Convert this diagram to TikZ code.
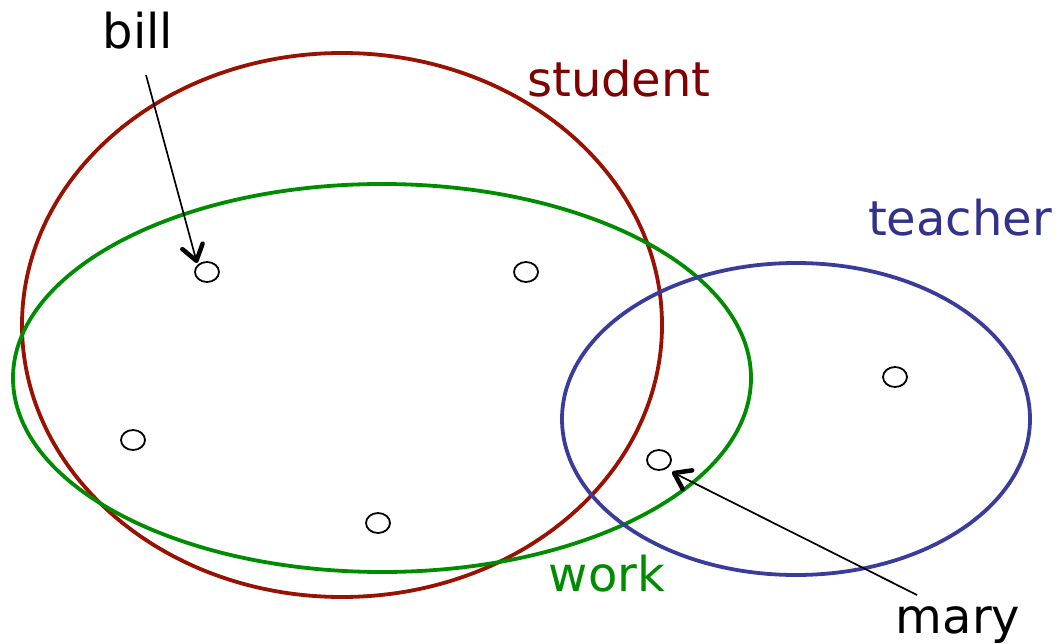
\documentclass[tikz,border=0pt]{standalone}
\usepackage{fontspec}
\setmainfont{DejaVu Sans}
\usetikzlibrary{shapes.geometric,arrows.meta}
\definecolor{sred}{RGB}{153,17,0}
\definecolor{sredtext}{RGB}{128,0,0}
\definecolor{wgreen}{RGB}{0,140,0}
\definecolor{tblue}{RGB}{58,60,155}
\definecolor{tbluetext}{RGB}{50,50,140}
\begin{document}
\begin{tikzpicture}[x=1pt,y=-1pt,
  setline/.style={line width=3.8pt},
  elem/.style={draw,ellipse,line width=1.8pt,minimum width=24pt,minimum height=20pt,inner sep=0pt},
  lbl/.style={anchor=base,inner sep=0pt,font=\fontsize{48}{56}\selectfont},
  pointer/.style={line width=1.7pt,-{Straight Barb[length=15pt,width=21pt,line width=4.5pt 0,round]}}]
\useasboundingbox (0,0) rectangle (1059,644);
% sets
\draw[setline,sred] (342,325) ellipse [x radius=320, y radius=272];
\draw[setline,wgreen] (382,378) ellipse [x radius=369, y radius=194];
\draw[setline,tblue] (796,419) ellipse [x radius=234, y radius=156];
% elements
\node[elem] (e1) at (207,272) {};
\node[elem] (e2) at (526,272) {};
\node[elem] (e3) at (133,440) {};
\node[elem] (e4) at (378,523) {};
\node[elem] (e5) at (659,460) {};
\node[elem] (e6) at (895,377) {};
% labels
\node[lbl] (bill) at (138,49) {bill};
\node[lbl,text=sredtext] (student) at (619,97) {student};
\node[lbl,text=tbluetext] (teacher) at (960,236) {teacher};
\node[lbl,text=wgreen] (work) at (607,591) {work};
\node[lbl] (mary) at (958,633) {mary};
% pointers
\coordinate (bs) at (146,75);
\coordinate (bt) at (197,263);
\coordinate (ms) at (917,595);
\coordinate (mt) at (672,472);
\draw[pointer] (bs) -- (bt);
\draw[pointer] (ms) -- (mt);
\end{tikzpicture}
\end{document}
